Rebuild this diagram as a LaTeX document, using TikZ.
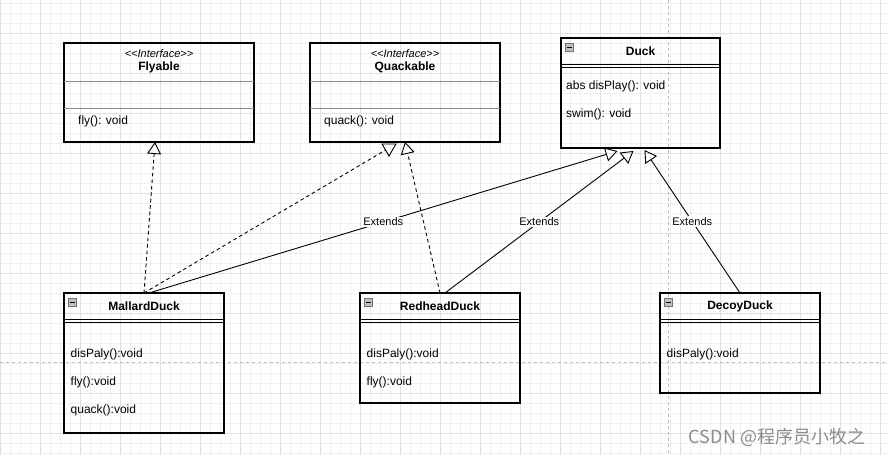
\documentclass[tikz,border=0pt]{standalone}
\usepackage{fontspec}
\setmainfont{Liberation Sans}
\newfontfamily\cjk{Noto Sans CJK SC}
\usetikzlibrary{arrows.meta,shapes.geometric,calc}

\begin{document}
\begin{tikzpicture}[
		x=1pt, y=-1pt,
		font=\fontsize{12}{14}\selectfont,
		>={Triangle[open,length=12pt,width=14pt]},
		minorgrid/.style={draw=black!6, line width=0.6pt},
		majorgrid/.style={draw=black!12, line width=0.8pt},
		pagebreak/.style={draw=black!25, dashed, line width=0.8pt},
		classbox/.style={draw, line width=1.2pt, inner sep=0pt, outer sep=0pt},
		sepline/.style={draw=black!45, line width=0.9pt},
		headline/.style={draw, line width=1pt},
		minusicon/.style={draw=black!55, fill=black!25, minimum size=8pt, inner sep=0pt,
			path picture={\draw[black, line width=0.8pt] ([xshift=1.8pt]path picture bounding box.west) -- ([xshift=-1.8pt]path picture bounding box.east);}},
		member/.style={anchor=west, inner sep=0pt},
		title/.style={font=\fontsize{12}{14}\selectfont\bfseries, inner sep=0pt},
		stereo/.style={font=\fontsize{11}{13}\selectfont\itshape, inner sep=0pt},
		realize/.style={->, dashed, dash pattern=on 3.5pt off 3pt, line width=0.9pt},
		extend/.style={->, line width=0.9pt},
		tag/.style={fill=white, inner sep=1pt, font=\fontsize{11}{13}\selectfont},
		downhead/.style={draw, line width=0.9pt, regular polygon, regular polygon sides=3,
			shape border rotate=180, minimum size=16pt, inner sep=0pt, outer sep=0pt}
	]

		% Background
		\useasboundingbox (0,0) rectangle (888,455);
		\fill[white] (0,0) rectangle (888,455);
		\foreach \gx in {0,10,...,880}
			\draw[minorgrid] (\gx,0) -- (\gx,455);
		\foreach \gy in {3,13,...,453}
			\draw[minorgrid] (0,\gy) -- (888,\gy);
		\foreach \gx in {0,40,...,880}
			\draw[majorgrid] (\gx,0) -- (\gx,455);
		\foreach \gy in {33,73,...,433}
			\draw[majorgrid] (0,\gy) -- (888,\gy);
		\draw[pagebreak] (0,362) -- (888,362);
		\draw[pagebreak] (668,0) -- (668,455);

		% Interfaces
		\node[classbox, minimum width=190pt, minimum height=99pt] (flyable) at (159,92.5) {};
		\node[classbox, minimum width=190pt, minimum height=99pt] (quackable) at (405,92.5) {};
		\foreach \iface/\iname/\imethod in {flyable/Flyable/fly(): void, quackable/Quackable/quack(): void} {
			\node[stereo] at ($(\iface.north)+(0,11)$) {<{}<Interface>{}>};
			\node[title] at ($(\iface.north)+(0,24.5)$) {\iname};
			\draw[sepline] ($(\iface.north west)+(0,38)$) -- ($(\iface.north east)+(0,38)$);
			\draw[sepline] ($(\iface.north west)+(0,65)$) -- ($(\iface.north east)+(0,65)$);
			\node[member] at ($(\iface.north west)+(14,78.5)$) {\imethod};
		}

		% Classes
		\node[classbox, minimum width=159pt, minimum height=110pt] (duck) at (640.5,93) {};
		\node[classbox, minimum width=160pt, minimum height=140pt] (mallard) at (144,363) {};
		\node[classbox, minimum width=160pt, minimum height=110pt] (redhead) at (440,348) {};
		\node[classbox, minimum width=160pt, minimum height=100pt] (decoy) at (740,343) {};
		\foreach \cls/\cname in {duck/Duck, mallard/MallardDuck, redhead/RedheadDuck, decoy/DecoyDuck} {
			\node[minusicon] (\cls-icon) at ($(\cls.north west)+(8.5,9.5)$) {};
			\node[title] at ($(\cls.north)+(0,13)$) {\cname};
			\draw[headline] ($(\cls.north west)+(0,26.5)$) -- ($(\cls.north east)+(0,26.5)$);
			\draw[headline] ($(\cls.north west)+(0,29.5)$) -- ($(\cls.north east)+(0,29.5)$);
		}

		% Members
		\node[member] at ($(duck.north west)+(5,48)$) {abs disPlay(): void};
		\node[member] at ($(duck.north west)+(5,76)$) {swim(): void};
		\node[member] at ($(mallard.north west)+(6.5,61)$) {disPaly():void};
		\node[member] at ($(mallard.north west)+(6.5,89)$) {fly():void};
		\node[member] at ($(mallard.north west)+(6.5,117)$) {quack():void};
		\node[member] at ($(redhead.north west)+(6.5,61)$) {disPaly():void};
		\node[member] at ($(redhead.north west)+(6.5,89)$) {fly():void};
		\node[member] at ($(decoy.north west)+(6.5,61)$) {disPaly():void};

		% Realizations
		\node[downhead] (qhead) at ($(quackable.south)+(-16,6)$) {};
		\draw[realize] (mallard.north) -- ($(flyable.south)+(-4,0)$);
		\draw[realize, -] (mallard.north) -- (qhead);
		\draw[realize] (redhead.north) -- (quackable.south);

		% Generalizations
		\draw[extend] ($(mallard.north)+(5,0)$) -- node[tag] {Extends} ($(duck.south)+(-23,3)$);
		\draw[extend] ($(redhead.north)+(5,0)$) -- node[tag] {Extends} ($(duck.south)+(-7,3)$);
		\draw[extend] (decoy.north) -- node[tag] {Extends} ($(duck.south)+(4,2)$);

		% Watermark
		\node[text=black!45, font=\cjk\fontsize{18}{20}\selectfont, inner sep=0pt] (mark) at (777,437) {CSDN @程序员小牧之};
	\end{tikzpicture}
\end{document}
